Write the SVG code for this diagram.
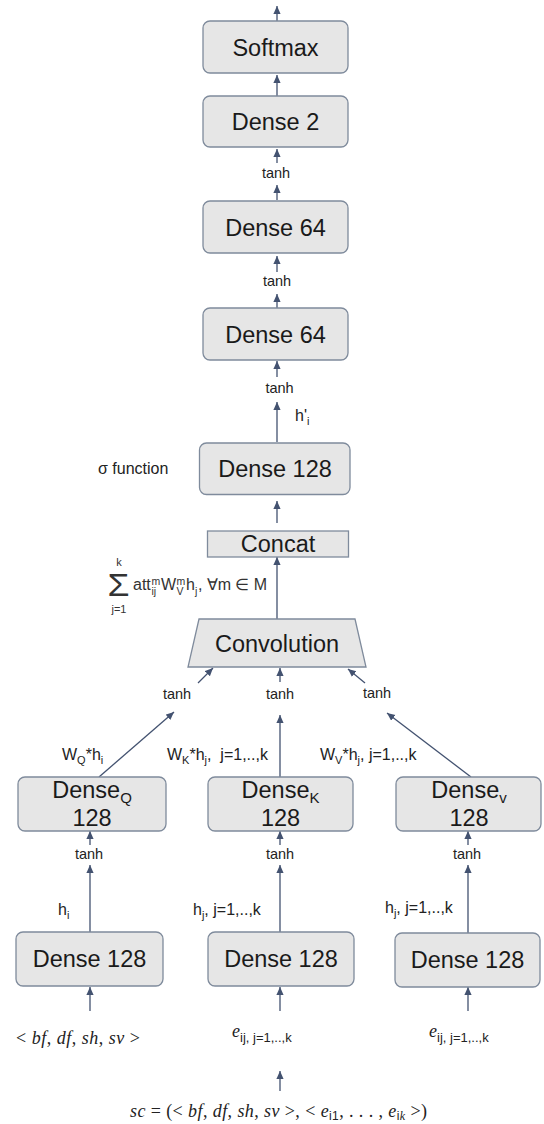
<svg xmlns="http://www.w3.org/2000/svg" width="544" height="1124" viewBox="0 0 544 1124">
  <defs>
    <marker id="ah" markerUnits="userSpaceOnUse" markerWidth="10" markerHeight="10" refX="8" refY="3.6" orient="auto">
      <path d="M0,0 L8,3.6 L0,7.2 z" fill="#435270"/>
    </marker>
    <style>
      .box { fill: #e6e6e6; stroke: #7f8b9c; stroke-width: 1.3; }
      .lbl { font-family: "Liberation Sans", Arial, sans-serif; font-size: 23.5px; fill: #1a1a1a; text-anchor: middle; }
      .sm { font-family: "Liberation Sans", Arial, sans-serif; font-size: 14.5px; fill: #222; text-anchor: middle; }
      .ann { font-family: "Liberation Sans", Arial, sans-serif; font-size: 16px; fill: #222; }
      .math { font-family: "Liberation Serif", "Times New Roman", serif; font-size: 18px; fill: #222; }
      .it { font-style: italic; }
      .fx { font-family: "Liberation Sans", Arial, sans-serif; fill: #333; }
      .conn line { stroke: #435270; stroke-width: 1.3; marker-end: url(#ah); }
    </style>
  </defs>
  <rect width="544" height="1124" fill="#ffffff"/>

  <g id="connectors" class="conn">
    <line x1="277" y1="21" x2="277" y2="6"/>
    <line x1="277" y1="96" x2="277" y2="75"/>
    <line x1="277" y1="163" x2="277" y2="149"/>
    <line x1="277" y1="200" x2="277" y2="185"/>
    <line x1="277" y1="272" x2="277" y2="256"/>
    <line x1="277" y1="308" x2="277" y2="294"/>
    <line x1="277" y1="377" x2="277" y2="361"/>
    <line x1="277" y1="442" x2="277" y2="402"/>
    <line x1="277" y1="523" x2="277" y2="501"/>
    <line x1="277" y1="619" x2="277" y2="557"/>
    <line x1="198" y1="683" x2="213" y2="668"/>
    <line x1="280" y1="682" x2="280" y2="668"/>
    <line x1="365" y1="683" x2="348" y2="669"/>
    <line x1="99" y1="777" x2="174" y2="712"/>
    <line x1="280" y1="777" x2="280" y2="715"/>
    <line x1="471" y1="777" x2="387" y2="713"/>
    <line x1="90" y1="845" x2="90" y2="831"/>
    <line x1="280" y1="845" x2="280" y2="831"/>
    <line x1="468" y1="845" x2="468" y2="831"/>
    <line x1="90" y1="932" x2="90" y2="865"/>
    <line x1="280" y1="932" x2="280" y2="865"/>
    <line x1="468" y1="933" x2="468" y2="865"/>
    <line x1="90" y1="1011" x2="90" y2="987"/>
    <line x1="280" y1="1011" x2="280" y2="987"/>
    <line x1="468" y1="1011" x2="468" y2="987"/>
    <line x1="280" y1="1091" x2="280" y2="1071"/>
  </g>

  <g id="softmax">
    <rect class="box" x="203" y="21" width="145" height="52" rx="7"/>
    <text class="lbl" x="275.5" y="55.5">Softmax</text>
  </g>
  <g id="dense2">
    <rect class="box" x="203" y="96" width="145" height="51" rx="7"/>
    <text class="lbl" x="275.5" y="130">Dense 2</text>
  </g>
  <g id="dense64a">
    <rect class="box" x="203" y="201" width="145" height="52" rx="7"/>
    <text class="lbl" x="275.5" y="235.5">Dense 64</text>
  </g>
  <g id="dense64b">
    <rect class="box" x="203" y="308" width="145" height="52" rx="7"/>
    <text class="lbl" x="275.5" y="342.5">Dense 64</text>
  </g>
  <g id="dense128top">
    <rect class="box" x="199.5" y="443" width="150.5" height="51.5" rx="7"/>
    <text class="lbl" x="275" y="477">Dense 128</text>
  </g>
  <g id="concat">
    <rect class="box" x="207.5" y="531" width="141" height="26"/>
    <text class="lbl" x="278" y="551.5">Concat</text>
  </g>
  <g id="convolution">
    <polygon class="box" points="199,619 355,619 366,667 188,667"/>
    <text class="lbl" x="277" y="652">Convolution</text>
  </g>
  <g id="denseQ">
    <rect class="box" x="18" y="777" width="148" height="54" rx="7"/>
    <text class="lbl" x="92" y="798">Dense<tspan font-size="15" dy="5">Q</tspan></text>
    <text class="lbl" x="92" y="826">128</text>
  </g>
  <g id="denseK">
    <rect class="box" x="208" y="777" width="145" height="54" rx="7"/>
    <text class="lbl" x="280.5" y="798">Dense<tspan font-size="15" dy="5">K</tspan></text>
    <text class="lbl" x="280.5" y="826">128</text>
  </g>
  <g id="denseV">
    <rect class="box" x="396" y="777" width="145" height="54" rx="7"/>
    <text class="lbl" x="469" y="798">Dense<tspan font-size="15" dy="5">v</tspan></text>
    <text class="lbl" x="469" y="826">128</text>
  </g>
  <g id="dense128L">
    <rect class="box" x="16" y="932" width="147" height="54" rx="7"/>
    <text class="lbl" x="89.5" y="967">Dense 128</text>
  </g>
  <g id="dense128M">
    <rect class="box" x="208" y="932" width="146" height="54" rx="7"/>
    <text class="lbl" x="281" y="967">Dense 128</text>
  </g>
  <g id="dense128R">
    <rect class="box" x="395" y="933" width="145" height="54" rx="7"/>
    <text class="lbl" x="467.5" y="968">Dense 128</text>
  </g>

  <g id="labels">
    <text class="sm" x="276" y="178">tanh</text>
    <text class="sm" x="277" y="286">tanh</text>
    <text class="sm" x="279.5" y="393">tanh</text>
    <text class="ann" x="295" y="421">h'<tspan font-size="11" dy="4">i</tspan></text>
    <text class="ann" x="98" y="473.5">σ function</text>

    <text class="sm" x="177" y="699">tanh</text>
    <text class="sm" x="280" y="699">tanh</text>
    <text class="sm" x="377" y="698">tanh</text>

    <text class="ann" x="62" y="760">W<tspan font-size="11" dy="4">Q</tspan><tspan dy="-4">*h</tspan><tspan font-size="11" dy="4">i</tspan></text>
    <text class="ann" x="167" y="760">W<tspan font-size="11" dy="4">K</tspan><tspan dy="-4">*h</tspan><tspan font-size="11" dy="4">j</tspan><tspan dy="-4" xml:space="preserve">,  j=1,..,k</tspan></text>
    <text class="ann" x="320" y="760">W<tspan font-size="11" dy="4">V</tspan><tspan dy="-4">*h</tspan><tspan font-size="11" dy="4">j</tspan><tspan dy="-4">, j=1,..,k</tspan></text>

    <text class="sm" x="89" y="859">tanh</text>
    <text class="sm" x="280" y="859">tanh</text>
    <text class="sm" x="467" y="859">tanh</text>

    <text class="ann" x="58" y="915">h<tspan font-size="11" dy="4">i</tspan></text>
    <text class="ann" x="193" y="915">h<tspan font-size="11" dy="4">j</tspan><tspan dy="-4">, j=1,..,k</tspan></text>
    <text class="ann" x="385" y="912.5">h<tspan font-size="11" dy="4">j</tspan><tspan dy="-4">, j=1,..,k</tspan></text>

    <text class="math" x="16" y="1043.5" textLength="124" lengthAdjust="spacing">&lt; <tspan class="it">bf</tspan>, <tspan class="it">df</tspan>, <tspan class="it">sh</tspan>, <tspan class="it">sv</tspan> &gt;</text>
    <text class="math" x="232" y="1037"><tspan class="it">e</tspan><tspan font-family="Liberation Sans, Arial, sans-serif" font-size="13" dy="4.5">ij, j=1,..,k</tspan></text>
    <text class="math" x="429" y="1037"><tspan class="it">e</tspan><tspan font-family="Liberation Sans, Arial, sans-serif" font-size="13" dy="4.5">ij, j=1,..,k</tspan></text>

    <text class="math" x="130" y="1117" textLength="297" lengthAdjust="spacing"><tspan class="it">sc</tspan> = (&lt; <tspan class="it">bf</tspan>, <tspan class="it">df</tspan>, <tspan class="it">sh</tspan>, <tspan class="it">sv</tspan> &gt;, &lt; <tspan class="it">e</tspan><tspan font-family="Liberation Sans, Arial, sans-serif" font-size="12" dy="3">i1</tspan><tspan dy="-3">, . . . , </tspan><tspan class="it">e</tspan><tspan font-family="Liberation Sans, Arial, sans-serif" font-size="12" dy="3">i</tspan><tspan class="it" font-size="12">k</tspan><tspan dy="-3"> &gt;)</tspan></text>
  </g>

  <g id="formula" class="fx">
    <text x="118.5" y="596" font-size="31" text-anchor="middle" textLength="22" lengthAdjust="spacingAndGlyphs">Σ</text>
    <text x="119" y="565.5" font-size="11" text-anchor="middle">k</text>
    <text x="119" y="613" font-size="11" text-anchor="middle">j=1</text>
    <text x="133" y="590" font-size="16">att</text>
    <text x="151.5" y="584.5" font-size="10.5">m</text>
    <text x="151.5" y="594.5" font-size="10.5">ij</text>
    <text x="161" y="590" font-size="16">W</text>
    <text x="176.5" y="584.5" font-size="10.5">m</text>
    <text x="176.5" y="594.5" font-size="10.5">V</text>
    <text x="186" y="590" font-size="16">h</text>
    <text x="195" y="594.5" font-size="10.5">j</text>
    <text x="198" y="590" font-size="16" textLength="69" lengthAdjust="spacing">, ∀m ∈ M</text>
  </g>
</svg>
